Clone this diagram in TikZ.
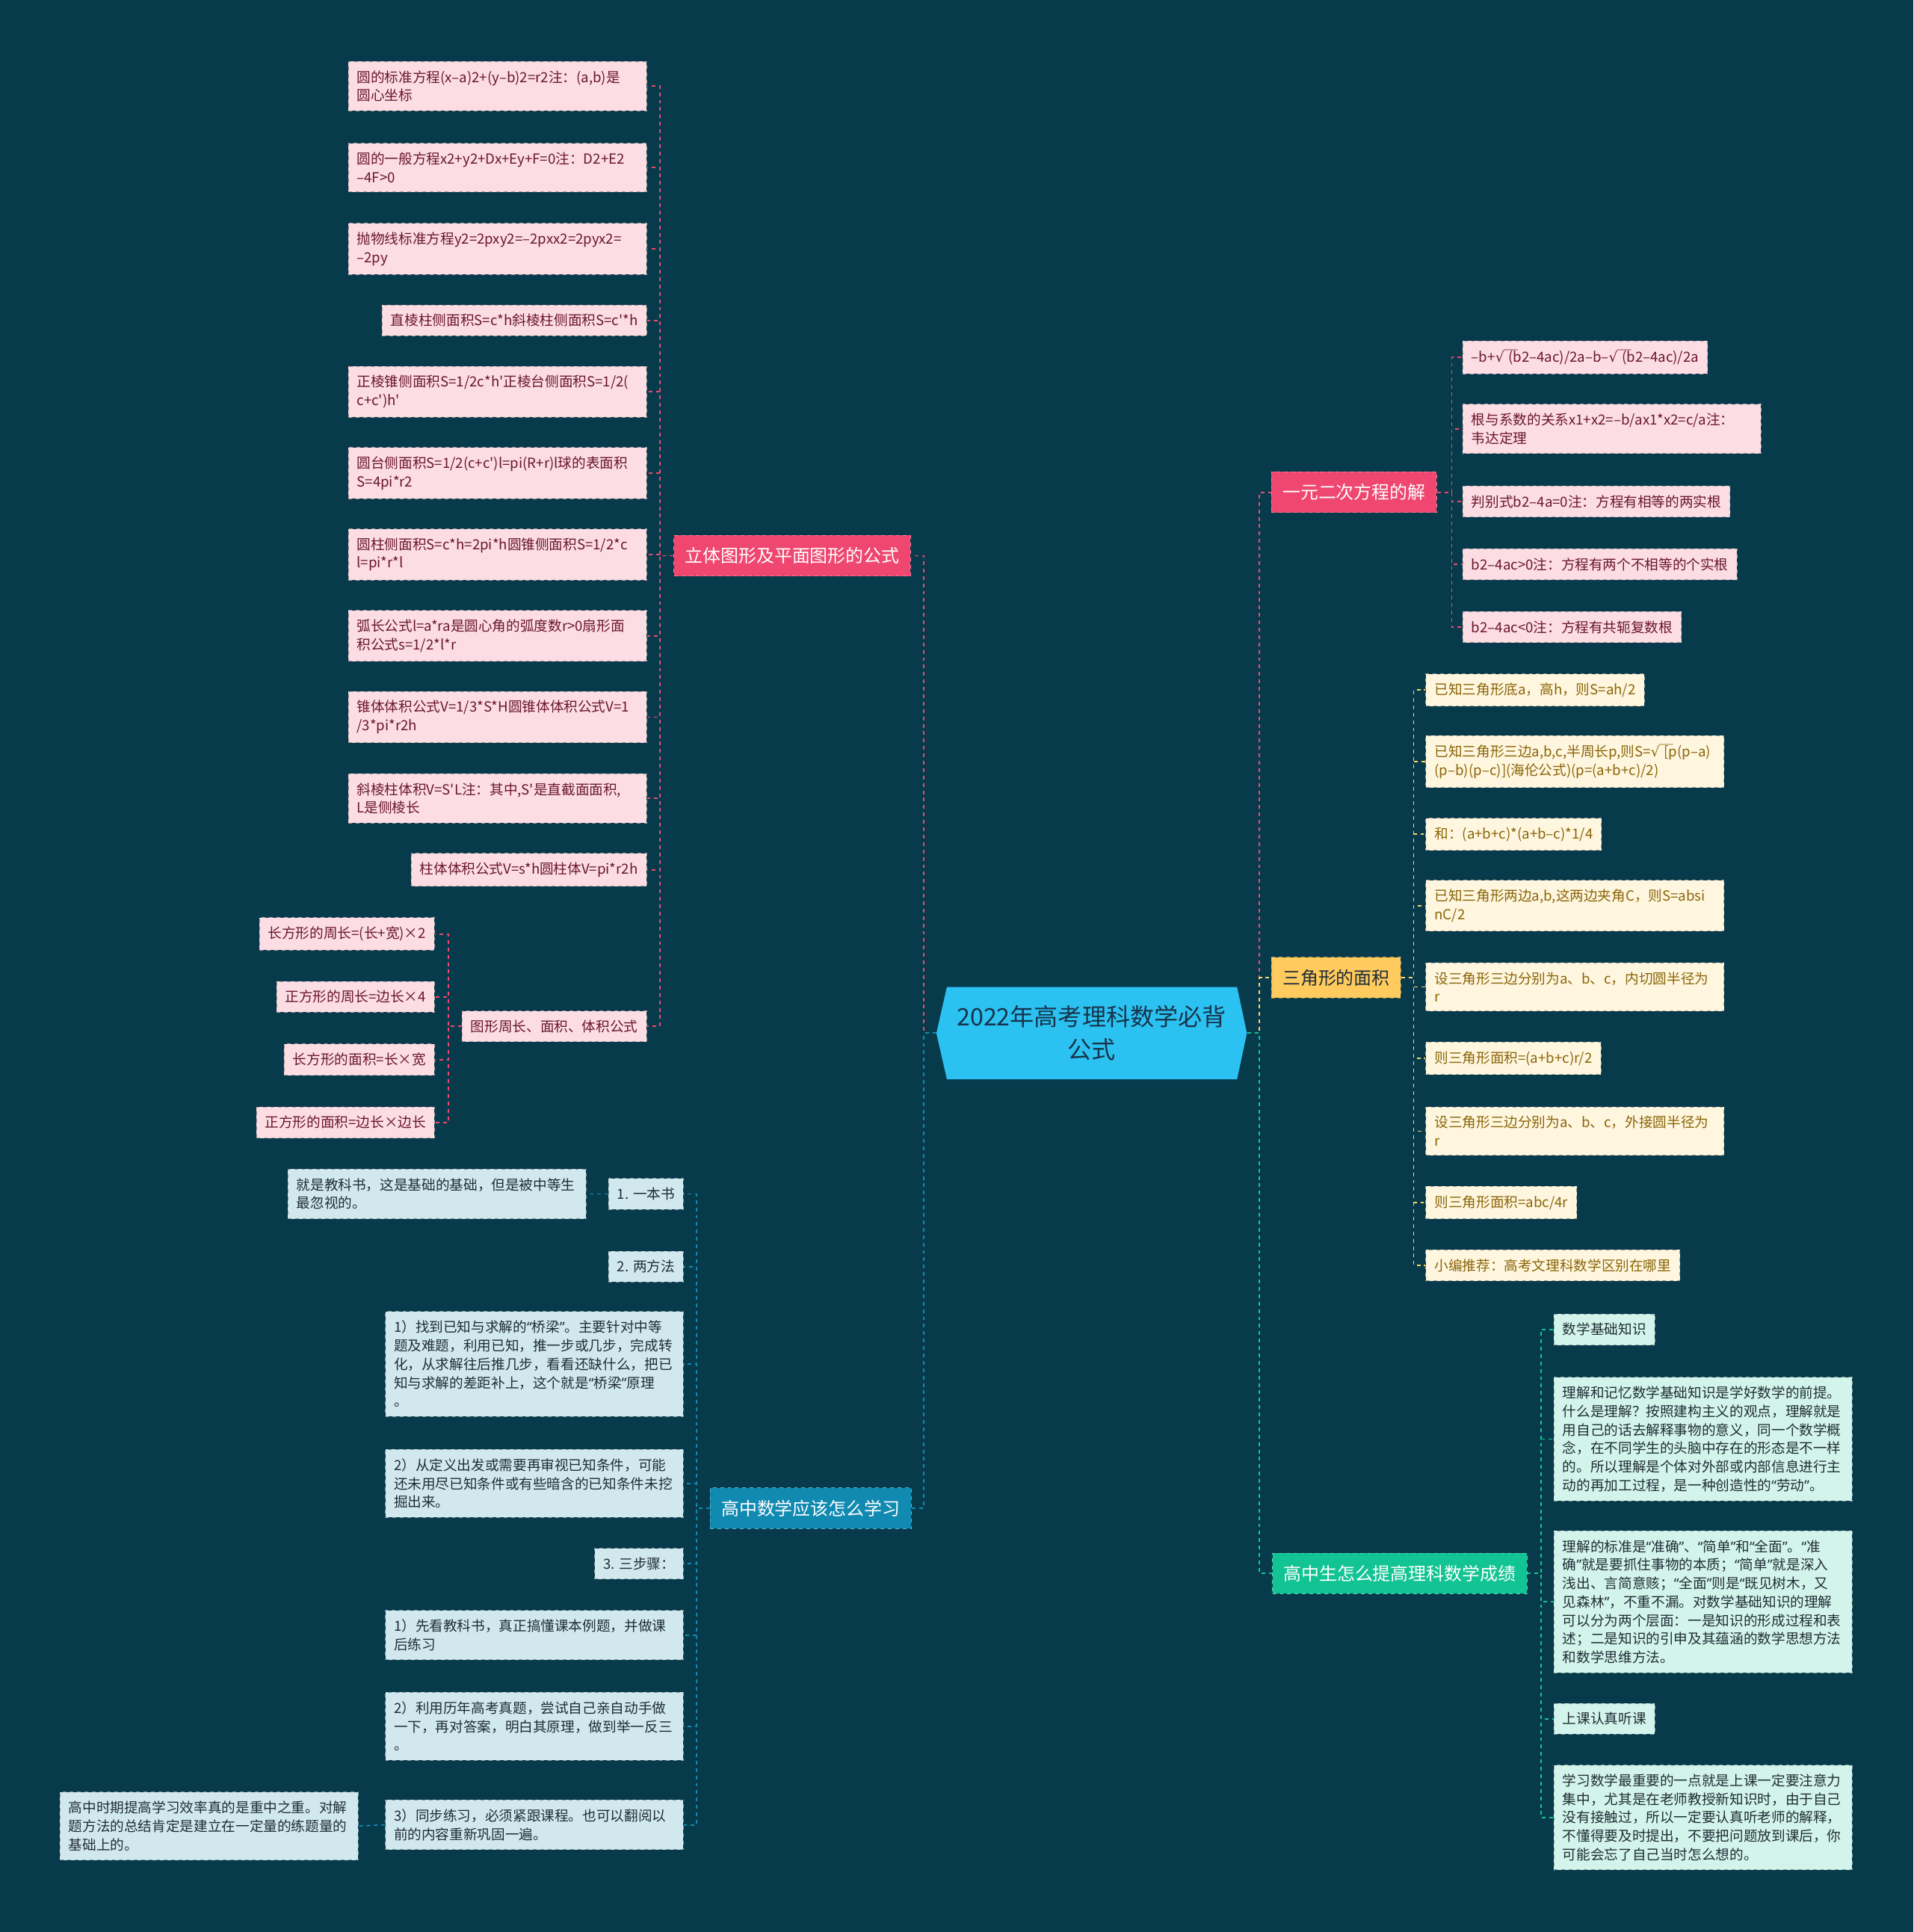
\documentclass[tikz,border=0pt]{standalone}
\usepackage{fontspec}
\setmainfont{Noto Sans CJK SC}[Ligatures=TeXOff]
\newfontfamily\quotefont{Noto Sans}
\newfontfamily\symbfont{DejaVu Sans}
\newcommand{\ql}{{\quotefont “}}
\newcommand{\qr}{{\quotefont ”}}
\newcommand{\rootbar}{{\symbfont √}\makebox[0.3em][l]{￣}}
\exhyphenpenalty=10000
\usepackage{tikz}
\usetikzlibrary{positioning}
\usepackage{xcolor}
\definecolor{BgDark}{HTML}{073B4C}
\definecolor{RootFill}{HTML}{2BC2F2}
\definecolor{RootText}{HTML}{17344A}
\definecolor{AccentP}{HTML}{EF476F}
\definecolor{AccentY}{HTML}{FFD166}
\definecolor{AccentG}{HTML}{12C493}
\definecolor{AccentB}{HTML}{118AB2}
\definecolor{LeafP}{HTML}{FCDDE4}
\definecolor{LeafY}{HTML}{FFF6DF}
\definecolor{LeafG}{HTML}{D3F4EA}
\definecolor{LeafB}{HTML}{D2E8EF}
\definecolor{TextP}{HTML}{6A1530}
\definecolor{TextY}{HTML}{8A6508}
\definecolor{TextD}{HTML}{1F2D35}
\tikzset{
  rootbox/.style={align=center, text=RootText, minimum width=252pt,
    minimum height=75pt, font=\fontsize{19.5}{27}\selectfont},
  mbox/.style={dashed, line width=0.6pt, minimum height=33pt, inner xsep=9pt,
    inner ysep=0pt, font=\fontsize{14.5}{18}\selectfont},
  lbox/.style={dashed, line width=0.6pt, align=left, inner xsep=7pt,
    inner ysep=7.3pt, font=\fontsize{11.3}{15}\selectfont},
  wide/.style={text width=228pt},
  pbox/.style={mbox, fill=AccentP, draw=AccentP!70!white, text=white},
  ybox/.style={mbox, fill=AccentY!92!orange, draw=AccentY!70!black, text=TextD},
  gbox/.style={mbox, fill=AccentG, draw=AccentG!70!white, text=white},
  bbox/.style={mbox, fill=AccentB, draw=AccentB!70!white, text=white},
  pleaf/.style={lbox, fill=LeafP, draw=LeafP!70!black, text=TextP},
  yleaf/.style={lbox, fill=LeafY, draw=LeafY!65!black, text=TextY},
  gleaf/.style={lbox, fill=LeafG, draw=LeafG!65!black, text=TextD},
  bleaf/.style={lbox, fill=LeafB, draw=LeafB!65!black, text=TextD},
  plink/.style={draw=AccentP, dashed, line width=1.1pt},
  ylink/.style={draw=AccentY, dashed, line width=1.1pt},
  glink/.style={draw=AccentG, dashed, line width=1.1pt},
  blink/.style={draw=AccentB, dashed, line width=1.1pt},
}
\begin{document}
\begin{tikzpicture}[x=1pt, y=-1pt]
    \fill[BgDark] (0,0) rectangle (1553,1568);
    \useasboundingbox (0,0) rectangle (1553,1568);
    % root
    \fill[RootFill] (768.5,801) -- (1004,801) -- (1012,838.5) -- (1004,876)
      -- (768.5,876) -- (760,838.5) -- cycle;
    \node[rootbox] (root) at (886,838.5) {2022年高考理科数学必背\\公式};

    % left: solid figures
    \node[pbox] (solid) at (643,451) {立体图形及平面图形的公式};
    \node[pleaf, wide, anchor=east] (p1) at (525,70) {圆的标准方程(x–a)2+(y–b)2=r2注：(a,b)是\\圆心坐标};
    \node[pleaf, wide, anchor=east] (p2) at (525,136) {圆的一般方程x2+y2+Dx+Ey+F=0注：D2+E2\\–4F>0};
    \node[pleaf, wide, anchor=east] (p3) at (525,202) {抛物线标准方程y2=2pxy2=–2pxx2=2pyx2=\\–2py};
    \node[pleaf, anchor=east] (p4) at (525,260) {直棱柱侧面积S=c*h斜棱柱侧面积S=c'*h};
    \node[pleaf, wide, anchor=east] (p5) at (525,318) {正棱锥侧面积S=1/2c*h'正棱台侧面积S=1/2(\\c+c')h'};
    \node[pleaf, wide, anchor=east] (p6) at (525,384) {圆台侧面积S=1/2(c+c')l=pi(R+r)l球的表面积\\S=4pi*r2};
    \node[pleaf, wide, anchor=east] (p7) at (525,450) {圆柱侧面积S=c*h=2pi*h圆锥侧面积S=1/2*c\\*l=pi*r*l};
    \node[pleaf, wide, anchor=east] (p8) at (525,516) {弧长公式l=a*ra是圆心角的弧度数r>0扇形面\\积公式s=1/2*l*r};
    \node[pleaf, wide, anchor=east] (p9) at (525,582) {锥体体积公式V=1/3*S*H圆锥体体积公式V=1\\/3*pi*r2h};
    \node[pleaf, wide, anchor=east] (p10) at (525,648) {斜棱柱体积V=S'L注：其中,S'是直截面面积,\\L是侧棱长};
    \node[pleaf, anchor=east] (p11) at (525,706) {柱体体积公式V=s*h圆柱体V=pi*r2h};
    \node[pleaf, anchor=east] (pg) at (525,833) {图形周长、面积、体积公式};
    \node[pleaf, anchor=east] (pg1) at (353,758) {长方形的周长=(长+宽)×2};
    \node[pleaf, anchor=east] (pg2) at (353,809) {正方形的周长=边长×4};
    \node[pleaf, anchor=east] (pg3) at (353,860) {长方形的面积=长×宽};
    \node[pleaf, anchor=east] (pg4) at (353,911) {正方形的面积=边长×边长};

    % left: how to study
    \node[bbox] (study) at (658,1224) {高中数学应该怎么学习};
    \node[bleaf, anchor=east] (b1) at (555,969) {1. 一本书};
    \node[bleaf, wide, anchor=east] (b1a) at (476,969) {就是教科书，这是基础的基础，但是被中等生\\最忽视的。};
    \node[bleaf, anchor=east] (b2) at (555,1028) {2. 两方法};
    \node[bleaf, wide, anchor=east] (b3) at (555,1107) {1）找到已知与求解的\ql 桥梁\qr 。主要针对中等\\题及难题，利用已知，推一步或几步，完成转\\化，从求解往后推几步，看看还缺什么，把已\\知与求解的差距补上，这个就是\ql 桥梁\qr 原理\\。};
    \node[bleaf, wide, anchor=east] (b4) at (555,1204) {2）从定义出发或需要再审视已知条件，可能\\还未用尽已知条件或有些暗含的已知条件未挖\\掘出来。};
    \node[bleaf, anchor=east] (b5) at (555,1269) {3. 三步骤：};
    \node[bleaf, wide, anchor=east] (b6) at (555,1327) {1）先看教科书，真正搞懂课本例题，并做课\\后练习};
    \node[bleaf, wide, anchor=east] (b7) at (555,1401) {2）利用历年高考真题，尝试自己亲自动手做\\一下，再对答案，明白其原理，做到举一反三\\。};
    \node[bleaf, wide, anchor=east] (b8) at (555,1481) {3）同步练习，必须紧跟课程。也可以翻阅以\\前的内容重新巩固一遍。};
    \node[bleaf, wide, anchor=east] (b8a) at (291,1482) {高中时期提高学习效率真的是重中之重。对解\\题方法的总结肯定是建立在一定量的练题量的\\基础上的。};

    % right: quadratic equation
    \node[pbox] (quad) at (1099,399.5) {一元二次方程的解};
    \node[pleaf, anchor=west] (q1) at (1187,290) {–b+\rootbar(b2–4ac)/2a–b–\rootbar(b2–4ac)/2a};
    \node[pleaf, wide, anchor=west] (q2) at (1187,348) {根与系数的关系x1+x2=–b/ax1*x2=c/a注：\\韦达定理};
    \node[pleaf, anchor=west] (q3) at (1187,407) {判别式b2–4a=0注：方程有相等的两实根};
    \node[pleaf, anchor=west] (q4) at (1187,458) {b2–4ac>0注：方程有两个不相等的个实根};
    \node[pleaf, anchor=west] (q5) at (1187,509) {b2–4ac<0注：方程有共轭复数根};

    % right: triangle area
    \node[ybox] (tri) at (1084.5,793.5) {三角形的面积};
    \node[yleaf, anchor=west] (t1) at (1157,560) {已知三角形底a，高h，则S=ah/2};
    \node[yleaf, wide, anchor=west] (t2) at (1157,618) {已知三角形三边a,b,c,半周长p,则S=\rootbar[p(p–a)\\(p–b)(p–c)](海伦公式)(p=(a+b+c)/2)};
    \node[yleaf, anchor=west] (t3) at (1157,677) {和：(a+b+c)*(a+b–c)*1/4};
    \node[yleaf, wide, anchor=west] (t4) at (1157,735) {已知三角形两边a,b,这两边夹角C，则S=absi\\nC/2};
    \node[yleaf, wide, anchor=west] (t5) at (1157,801) {设三角形三边分别为a、b、c，内切圆半径为\\r};
    \node[yleaf, anchor=west] (t6) at (1157,859) {则三角形面积=(a+b+c)r/2};
    \node[yleaf, wide, anchor=west] (t7) at (1157,918) {设三角形三边分别为a、b、c，外接圆半径为\\r};
    \node[yleaf, anchor=west] (t8) at (1157,976) {则三角形面积=abc/4r};
    \node[yleaf, anchor=west] (t9) at (1157,1027) {小编推荐：高考文理科数学区别在哪里};

    % right: improve grades
    \node[gbox] (grade) at (1136,1277) {高中生怎么提高理科数学成绩};
    \node[gleaf, anchor=west] (g1) at (1261,1079) {数学基础知识};
    \node[gleaf, wide, anchor=west] (g2) at (1261,1168) {理解和记忆数学基础知识是学好数学的前提。\\什么是理解？按照建构主义的观点，理解就是\\用自己的话去解释事物的意义，同一个数学概\\念，在不同学生的头脑中存在的形态是不一样\\的。所以理解是个体对外部或内部信息进行主\\动的再加工过程，是一种创造性的\ql 劳动\qr 。};
    \node[gleaf, wide, anchor=west] (g3) at (1261,1300) {理解的标准是\ql 准确\qr 、\ql 简单\qr 和\ql 全面\qr 。\ql 准\\确\qr 就是要抓住事物的本质；\ql 简单\qr 就是深入\\浅出、言简意赅；\ql 全面\qr 则是\ql 既见树木，又\\见森林\qr ，不重不漏。对数学基础知识的理解\\可以分为两个层面：一是知识的形成过程和表\\述；二是知识的引申及其蕴涵的数学思想方法\\和数学思维方法。};
    \node[gleaf, anchor=west] (g4) at (1261,1395) {上课认真听课};
    \node[gleaf, wide, anchor=west] (g5) at (1261,1475) {学习数学最重要的一点就是上课一定要注意力\\集中，尤其是在老师教授新知识时，由于自己\\没有接触过，所以一定要认真听老师的解释，\\不懂得要及时提出，不要把问题放到课后，你\\可能会忘了自己当时怎么想的。};

    % connectors
    \draw[plink] (root.west) -- ++(-10,0) |- (solid.east);
    \draw[blink] (root.west) -- ++(-10,0) |- (study.east);
    \draw[plink] (root.east) -- ++(10,0) |- (quad.west);
    \draw[ylink] (root.east) -- ++(10,0) |- (tri.west);
    \draw[glink] (root.east) -- ++(10,0) |- (grade.west);
    \foreach \n in {p1,p2,p3,p4,p5,p6,p7,p8,p9,p10,p11,pg}
      \draw[plink] (solid.west) -- ++(-11,0) |- (\n.east);
    \foreach \n in {pg1,pg2,pg3,pg4}
      \draw[plink] (pg.west) -- ++(-11,0) |- (\n.east);
    \foreach \n in {b1,b2,b3,b4,b5,b6,b7,b8}
      \draw[blink] (study.west) -- ++(-11,0) |- (\n.east);
    \draw[blink] (b1.west) -- (b1a.east);
    \draw[blink] (b8.west) -- (b8a.east);
    \foreach \n in {q1,q2,q3,q4,q5}
      \draw[plink] (quad.east) -- ++(12,0) |- (\n.west);
    \foreach \n in {t1,t2,t3,t4,t5,t6,t7,t8,t9}
      \draw[ylink] (tri.east) -- ++(10,0) |- (\n.west);
    \foreach \n in {g1,g2,g3,g4,g5}
      \draw[glink] (grade.east) -- ++(11,0) |- (\n.west);
\end{tikzpicture}
\end{document}
